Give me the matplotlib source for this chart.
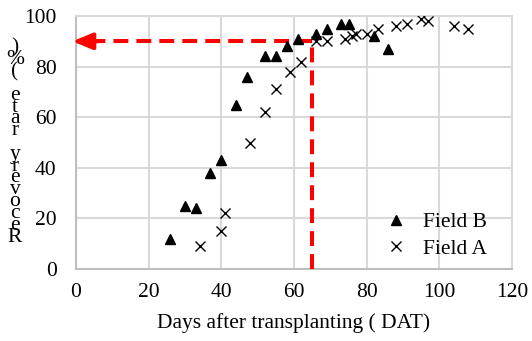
import matplotlib
matplotlib.use("Agg")
import matplotlib.pyplot as plt
import numpy as np

# Field B (triangles) and Field A (crosses): days after transplanting vs recovery rate
field_b_days = [26, 30, 33, 37, 40, 44, 47, 52, 55, 58, 61, 66, 69, 73, 75, 82, 86]
field_b_rate = [12, 25, 24, 38, 43, 65, 76, 84, 84, 88, 91, 93, 95, 97, 97, 92, 87]

field_a_days = [34, 40, 41, 48, 52, 55, 59, 62, 66, 69, 74, 76, 77, 80, 83, 88, 91, 95, 97, 104, 108]
field_a_rate = [9, 15, 22, 50, 62, 71, 78, 82, 90, 90, 91, 92, 93, 93, 95, 96, 97, 99, 98, 96, 95]

# 90 % recovery reached at about 65 DAT
mark_day = 65
mark_rate = 90

x_ticks = [0, 20, 40, 60, 80, 100, 120]
y_ticks = [0, 20, 40, 60, 80, 100]
ylabel_text = "Recovery rate (%)"

plt.rcParams['font.family'] = ['Liberation Serif', 'DejaVu Serif']
plt.rcParams['font.size'] = 15.5

fig = plt.figure(figsize=(5.32, 3.41), dpi=100)
ax = fig.add_axes([76/532, 1 - 269/341, 436/532, 253/341])

grid_c = '#d9d9d9'
ax.set_xlim(0, 120)
ax.set_ylim(0, 100)
ax.set_xticks(x_ticks)
ax.set_yticks(y_ticks)
ax.grid(True, color=grid_c, lw=1.5, zorder=0)
ax.set_axisbelow(True)
ax.tick_params(length=0)
ax.tick_params(axis='x', pad=10)
ax.tick_params(axis='y', pad=14)
for side in ['top', 'right']:
    ax.spines[side].set_color(grid_c)
    ax.spines[side].set_linewidth(1.5)
for side in ['left', 'bottom']:
    ax.spines[side].set_color('#bfbfbf')
    ax.spines[side].set_linewidth(1.5)

# red dashed guide lines with the arrow to the y axis
ax.plot([mark_day, mark_day], [0, mark_rate], color='red', lw=2.9,
        linestyle=(0, (3.7, 2.0)), zorder=3)
ax.plot([mark_day, 5], [mark_rate, mark_rate], color='red', lw=2.9,
        linestyle=(0, (3.7, 2.0)), zorder=3)
ax.annotate('', xy=(-1.0, mark_rate), xytext=(6, mark_rate),
            arrowprops=dict(arrowstyle='-|>,head_length=0.8,head_width=0.33',
                            color='red', lw=2.9, mutation_scale=15,
                            shrinkA=0, shrinkB=0),
            annotation_clip=False, zorder=4)

ax.plot(field_b_days, field_b_rate, linestyle='none', marker='^', ms=7,
        color='black', label='Field B', zorder=5)
ax.plot(field_a_days, field_a_rate, linestyle='none', marker='x', ms=6.5,
        mew=1.0, color='black', label='Field A', zorder=5)

ax.legend(loc='upper left', bbox_to_anchor=(0.71, 0.225), frameon=False,
          borderpad=0, borderaxespad=0, handlelength=1.0, handletextpad=0.75,
          labelspacing=0.3)

ax.set_xlabel('Days after transplanting ( DAT)', labelpad=8)

# y label drawn as stacked upright characters, bottom to top
n = len(ylabel_text)
ys = np.linspace(237, 48, n)
for ch, yp in zip(ylabel_text, ys):
    fig.text(15/532, 1 - yp/341, ch, ha='center', va='center')

fig.savefig('out.png', dpi=100)
